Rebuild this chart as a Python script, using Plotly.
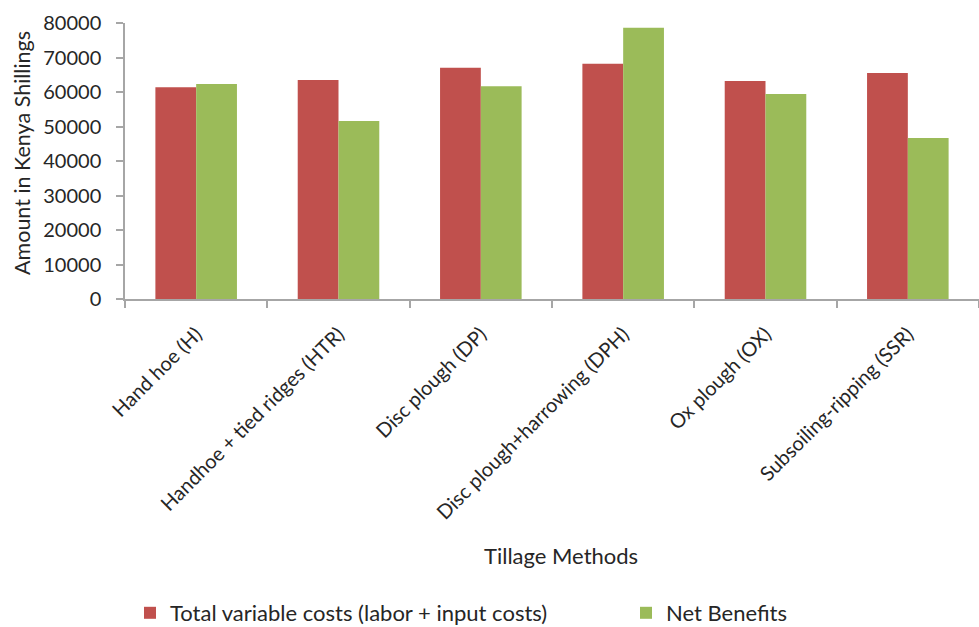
import plotly.graph_objects as go

categories = ["Hand hoe (H)", "Handhoe + tied ridges (HTR)", "Disc plough (DP)",
              "Disc plough+harrowing (DPH)", "Ox plough (OX)", "Subsoiling-ripping (SSR)"]
total_costs = [61400, 63500, 67000, 68200, 63200, 65500]
net_benefits = [62300, 51600, 61700, 78600, 59400, 46700]

FONT = "Lato"
TXT = "#262626"
AX = "#a6a6a6"

L, T, B = 125, 23, 299
PW, PH = 979 - L, B - T

def px_x(X):
    return (X - L) / PW

def px_y(Y):
    return (B - Y) / PH

fig = go.Figure()
fig.add_trace(go.Bar(x=categories, y=total_costs, name="Total variable costs (labor + input costs)",
                     marker=dict(color="#C0504D", line=dict(width=0)), legend="legend"))
fig.add_trace(go.Bar(x=categories, y=net_benefits, name="Net Benefits",
                     marker=dict(color="#9BBB59", line=dict(width=0)), legend="legend2"))

leg_common = dict(orientation="h", xref="container", yref="container",
                  y=(627 - 613) / 627, xanchor="left", yanchor="middle",
                  font=dict(size=22, color=TXT), itemwidth=30, bgcolor="rgba(0,0,0,0)",
                  borderwidth=0)

fig.update_layout(
    width=979, height=627,
    margin=dict(l=L, r=0, t=T, b=627 - B),
    paper_bgcolor="white", plot_bgcolor="white",
    barmode="group", bargap=0.427, bargroupgap=0,
    font=dict(family=FONT, size=20, color=TXT),
    showlegend=True,
    legend=dict(x=130 / 979, **leg_common),
    legend2=dict(x=626 / 979, **leg_common),
    annotations=[
        dict(text="Tillage Methods", xref="paper", yref="paper", x=px_x(560.5), y=px_y(555),
             showarrow=False, font=dict(size=22, color=TXT), xanchor="center", yanchor="middle"),
        dict(text="Amount in Kenya Shillings", xref="paper", yref="paper", x=px_x(22), y=px_y(153),
             textangle=-90, showarrow=False, font=dict(size=21.5, color=TXT),
             xanchor="center", yanchor="middle"),
    ],
)
fig.update_xaxes(type="category", range=[-0.5, 5.5], showline=True, linecolor=AX, linewidth=1.5,
                 ticks="outside", tickson="boundaries", ticklen=7, tickcolor=AX, tickwidth=1.5,
                 tickangle=-45, showgrid=False, tickfont=dict(size=20, color=TXT),
                 ticklabelstandoff=14)
fig.update_yaxes(range=[0, 80000], dtick=10000, showline=True, linecolor=AX, linewidth=1.5,
                 ticks="outside", ticklen=7, tickcolor=AX, tickwidth=1.5,
                 showgrid=False, zeroline=False, tickformat="d",
                 tickfont=dict(size=20, color=TXT), ticklabelstandoff=11)

fig.write_html("out.html")
